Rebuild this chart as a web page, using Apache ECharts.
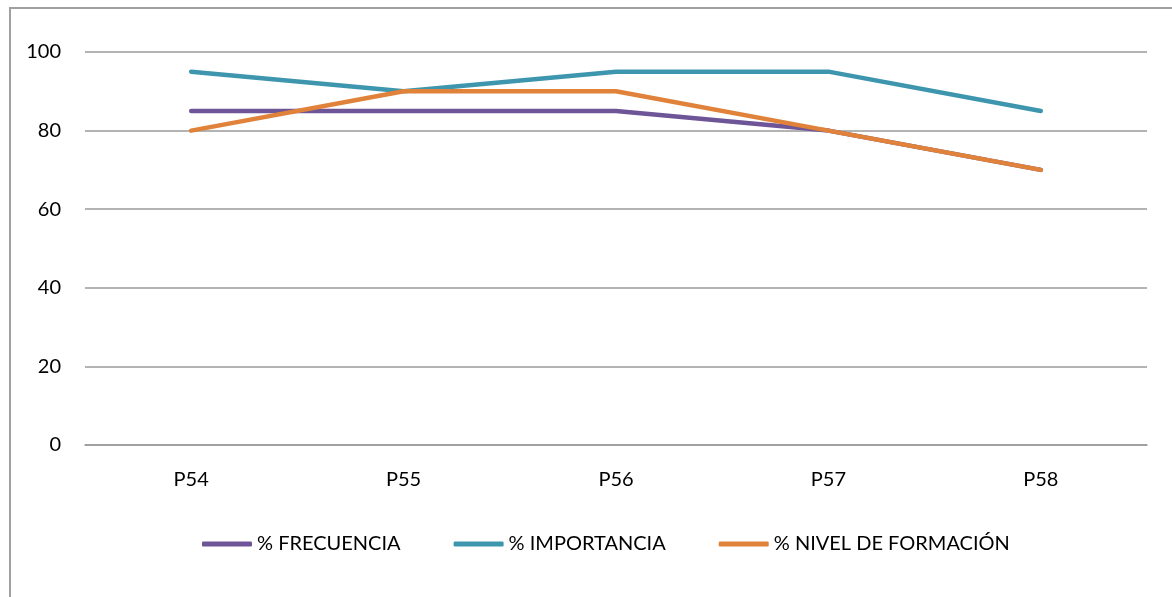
<!DOCTYPE html>
<html><head><meta charset="utf-8">
<script src="https://cdn.jsdelivr.net/npm/echarts@6/dist/echarts.min.js"></script>
<style>html,body{margin:0;padding:0;background:#fff}#c{width:1172px;height:597px}</style>
</head><body><div id="c"></div>
<script>
const categories = ['P54','P55','P56','P57','P58'];
const frecuencia = [85,85,85,80,70];
const importancia = [95,90,95,95,85];
const nivel = [80,90,90,80,70];
const seriesNames = ['% FRECUENCIA','% IMPORTANCIA','% NIVEL DE FORMACIÓN'];
const colors = ['#6E5597','#3D96AE','#E0823A'];
const font = 'Lato, "Open Sans", sans-serif';
const chart = echarts.init(document.getElementById('c'));
const mk = (name, data, color) => ({
  name, type: 'line', data, showSymbol: false, symbol: 'none',
  lineStyle: {width: 4.5, color, cap: 'round', join: 'round'}, itemStyle: {color}
});
chart.setOption({
  animation: false,
  textStyle: {fontFamily: font},
  graphic: [{type: 'rect', shape: {x: 10, y: 8, width: 1200, height: 620}, style: {fill: 'none', stroke: '#A0A0A0', lineWidth: 2}}],
  grid: {left: 85, right: 25, top: 52, bottom: 152, containLabel: false},
  xAxis: {type: 'category', data: categories, boundaryGap: true,
    axisLine: {lineStyle: {color: '#9A9A9A', width: 1.5}}, axisTick: {show: false},
    axisLabel: {color: '#000', fontSize: 20, fontFamily: font, margin: 25}},
  yAxis: {type: 'value', min: 0, max: 100, interval: 20,
    axisLine: {show: false}, axisTick: {show: false},
    axisLabel: {color: '#000', fontSize: 20, fontFamily: font, margin: 24},
    splitLine: {lineStyle: {color: '#9A9A9A', width: 1.5}}},
  legend: {bottom: 38, left: 197, itemWidth: 50, itemHeight: 5, itemGap: 53, icon: 'roundRect',
    textStyle: {color: '#000', fontSize: 20, fontFamily: font},
    data: seriesNames},
  series: [mk(seriesNames[0], frecuencia, colors[0]), mk(seriesNames[1], importancia, colors[1]), mk(seriesNames[2], nivel, colors[2])]
});
</script></body></html>
